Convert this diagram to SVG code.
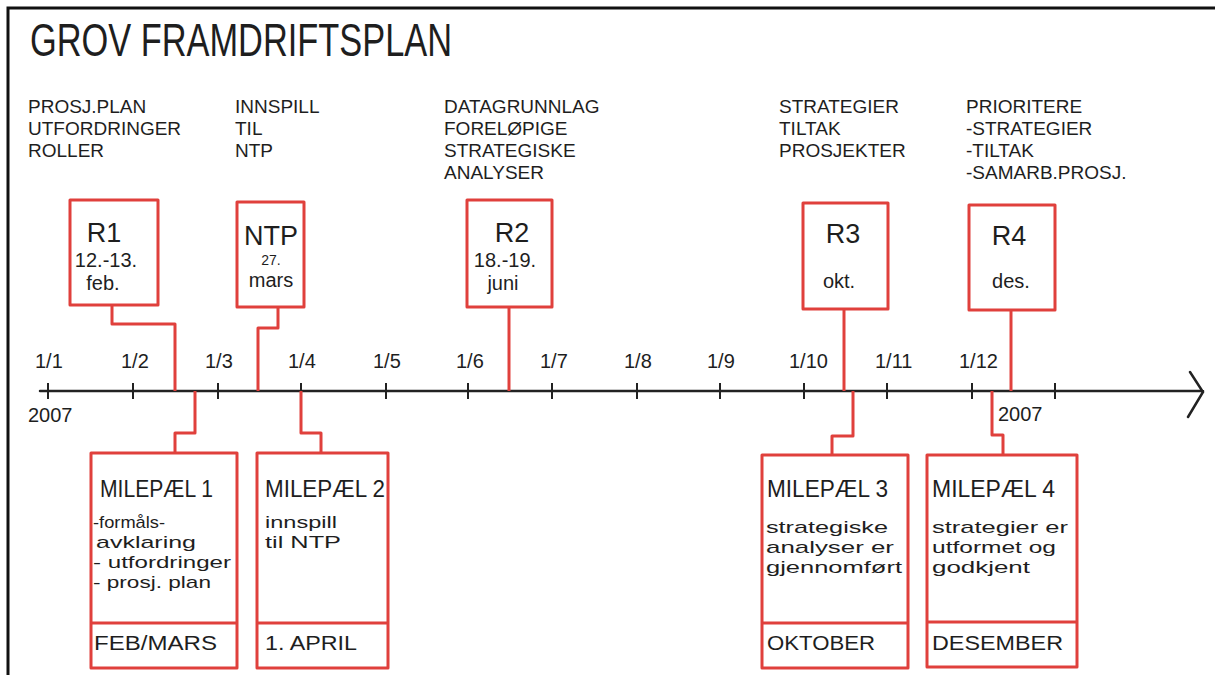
<svg xmlns="http://www.w3.org/2000/svg" width="1215" height="675" viewBox="0 0 1215 675">
<style>
.bx{fill:none;stroke:#e0403c;stroke-width:3;stroke-linejoin:round}
.cn{fill:none;stroke:#e0403c;stroke-width:3;stroke-linejoin:round}
.ax{fill:none;stroke:#222;stroke-width:2.5;stroke-linecap:round}
.tk{stroke:#222;stroke-width:2}
text{font-family:"Liberation Sans","DejaVu Sans",sans-serif;fill:#1e1e1e}
.cap{font-size:19px}
.ttl{font-size:47px}
.lbl{font-size:20px}
.big{font-size:27px}
.mid{font-size:20px}
.ms{font-size:24px}
.lc{font-size:17px}
</style>
<rect x="0" y="0" width="1215" height="675" fill="#fff"/>
<path d="M8,675 V8 H1215" fill="none" stroke="#111" stroke-width="3"/>

<g id="title">
<text class="ttl" x="30" y="56" textLength="422" lengthAdjust="spacingAndGlyphs">GROV FRAMDRIFTSPLAN</text>
</g>

<g id="notes">
<text class="cap" x="28" y="113">PROSJ.PLAN</text>
<text class="cap" x="28" y="135">UTFORDRINGER</text>
<text class="cap" x="28" y="157">ROLLER</text>
<text class="cap" x="235" y="113">INNSPILL</text>
<text class="cap" x="235" y="135">TIL</text>
<text class="cap" x="235" y="157">NTP</text>
<text class="cap" x="444" y="113">DATAGRUNNLAG</text>
<text class="cap" x="444" y="135">FORELØPIGE</text>
<text class="cap" x="444" y="157">STRATEGISKE</text>
<text class="cap" x="444" y="179">ANALYSER</text>
<text class="cap" x="779" y="113">STRATEGIER</text>
<text class="cap" x="779" y="135">TILTAK</text>
<text class="cap" x="779" y="157">PROSJEKTER</text>
<text class="cap" x="966" y="113">PRIORITERE</text>
<text class="cap" x="966" y="135">-STRATEGIER</text>
<text class="cap" x="966" y="157">-TILTAK</text>
<text class="cap" x="966" y="179">-SAMARB.PROSJ.</text>
</g>

<g id="axis">
<path class="ax" d="M40,391 H1203 M1190,372 L1203,392 L1188,417"/>
<g class="tk">
<path d="M48,383 V399 M133,383 V399 M218,383 V399 M301,383 V399 M386,383 V399 M468,383 V399 M552,383 V399 M637,383 V399 M720,383 V399 M804,383 V399 M887,383 V399 M972,383 V399 M1055,383 V399"/>
</g>
<text class="lbl" x="35" y="368">1/1</text>
<text class="lbl" x="121" y="368">1/2</text>
<text class="lbl" x="205" y="368">1/3</text>
<text class="lbl" x="288" y="368">1/4</text>
<text class="lbl" x="373" y="368">1/5</text>
<text class="lbl" x="456" y="368">1/6</text>
<text class="lbl" x="540" y="368">1/7</text>
<text class="lbl" x="624" y="368">1/8</text>
<text class="lbl" x="707" y="368">1/9</text>
<text class="lbl" x="789" y="368">1/10</text>
<text class="lbl" x="875" y="368">1/11</text>
<text class="lbl" x="959" y="368">1/12</text>
<text class="lbl" x="28" y="422">2007</text>
<text class="lbl" x="998" y="421">2007</text>
</g>

<g id="connectors">
<path class="cn" d="M112,305 V324 H175 V391"/>
<path class="cn" d="M278,307 V328 H258 V391"/>
<path class="cn" d="M509,307 V391"/>
<path class="cn" d="M844,309 V391"/>
<path class="cn" d="M1011,310 V391"/>
<path class="cn" d="M195,391 V433 H175 V453"/>
<path class="cn" d="M301,391 V433 H321 V453"/>
<path class="cn" d="M853,391 V436 H832 V455"/>
<path class="cn" d="M992,391 V435 H1003 V455"/>
</g>

<g id="R1">
<rect class="bx" x="70" y="200" width="88" height="105"/>
<text class="big" x="104" y="242" text-anchor="middle">R1</text>
<text class="mid" x="106" y="267" text-anchor="middle">12.-13.</text>
<text class="mid" x="103" y="290" text-anchor="middle">feb.</text>
</g>
<g id="NTP">
<rect class="bx" x="237" y="202" width="67" height="105"/>
<text class="big" x="271" y="245" text-anchor="middle">NTP</text>
<text x="271" y="265" text-anchor="middle" style="font-size:14px">27.</text>
<text class="mid" x="271" y="287" text-anchor="middle">mars</text>
</g>
<g id="R2">
<rect class="bx" x="467" y="200" width="85" height="107"/>
<text class="big" x="512" y="242" text-anchor="middle">R2</text>
<text class="mid" x="505" y="267" text-anchor="middle">18.-19.</text>
<text class="mid" x="503" y="290" text-anchor="middle">juni</text>
</g>
<g id="R3">
<rect class="bx" x="803" y="203" width="85" height="106"/>
<text class="big" x="843" y="243" text-anchor="middle">R3</text>
<text class="mid" x="839" y="288" text-anchor="middle">okt.</text>
</g>
<g id="R4">
<rect class="bx" x="969" y="205" width="86" height="105"/>
<text class="big" x="1009" y="245" text-anchor="middle">R4</text>
<text class="mid" x="1011" y="288" text-anchor="middle">des.</text>
</g>

<g id="M1">
<rect class="bx" x="91" y="453" width="146" height="215"/>
<path class="bx" d="M91,623 H237"/>
<text class="ms" x="100" y="497" textLength="113" lengthAdjust="spacingAndGlyphs">MILEPÆL 1</text>
<text class="lc" x="93" y="528" textLength="72" lengthAdjust="spacingAndGlyphs">-formåls-</text>
<text class="lc" x="96" y="548" textLength="100" lengthAdjust="spacingAndGlyphs">avklaring</text>
<text class="lc" x="93" y="568" textLength="138" lengthAdjust="spacingAndGlyphs">- utfordringer</text>
<text class="lc" x="93" y="588" textLength="118" lengthAdjust="spacingAndGlyphs">- prosj. plan</text>
<text class="mid" x="94" y="650" textLength="123" lengthAdjust="spacingAndGlyphs">FEB/MARS</text>
</g>
<g id="M2">
<rect class="bx" x="257" y="453" width="131" height="215"/>
<path class="bx" d="M257,623 H388"/>
<text class="ms" x="265" y="497" textLength="120" lengthAdjust="spacingAndGlyphs">MILEPÆL 2</text>
<text class="lc" x="265" y="528" textLength="72" lengthAdjust="spacingAndGlyphs">innspill</text>
<text class="lc" x="265" y="548" textLength="76" lengthAdjust="spacingAndGlyphs">til NTP</text>
<text class="mid" x="265" y="650" textLength="92" lengthAdjust="spacingAndGlyphs">1. APRIL</text>
</g>
<g id="M3">
<rect class="bx" x="762" y="455" width="146" height="213"/>
<path class="bx" d="M762,623 H908"/>
<text class="ms" x="767" y="497" textLength="121" lengthAdjust="spacingAndGlyphs">MILEPÆL 3</text>
<text class="lc" x="766" y="533" textLength="122" lengthAdjust="spacingAndGlyphs">strategiske</text>
<text class="lc" x="766" y="553" textLength="128" lengthAdjust="spacingAndGlyphs">analyser er</text>
<text class="lc" x="766" y="573" textLength="136" lengthAdjust="spacingAndGlyphs">gjennomført</text>
<text class="mid" x="767" y="650" textLength="108" lengthAdjust="spacingAndGlyphs">OKTOBER</text>
</g>
<g id="M4">
<rect class="bx" x="927" y="455" width="150" height="212"/>
<path class="bx" d="M927,622 H1077"/>
<text class="ms" x="932" y="497" textLength="123" lengthAdjust="spacingAndGlyphs">MILEPÆL 4</text>
<text class="lc" x="932" y="533" textLength="136" lengthAdjust="spacingAndGlyphs">strategier er</text>
<text class="lc" x="932" y="553" textLength="124" lengthAdjust="spacingAndGlyphs">utformet og</text>
<text class="lc" x="932" y="573" textLength="98" lengthAdjust="spacingAndGlyphs">godkjent</text>
<text class="mid" x="932" y="650" textLength="131" lengthAdjust="spacingAndGlyphs">DESEMBER</text>
</g>
</svg>
